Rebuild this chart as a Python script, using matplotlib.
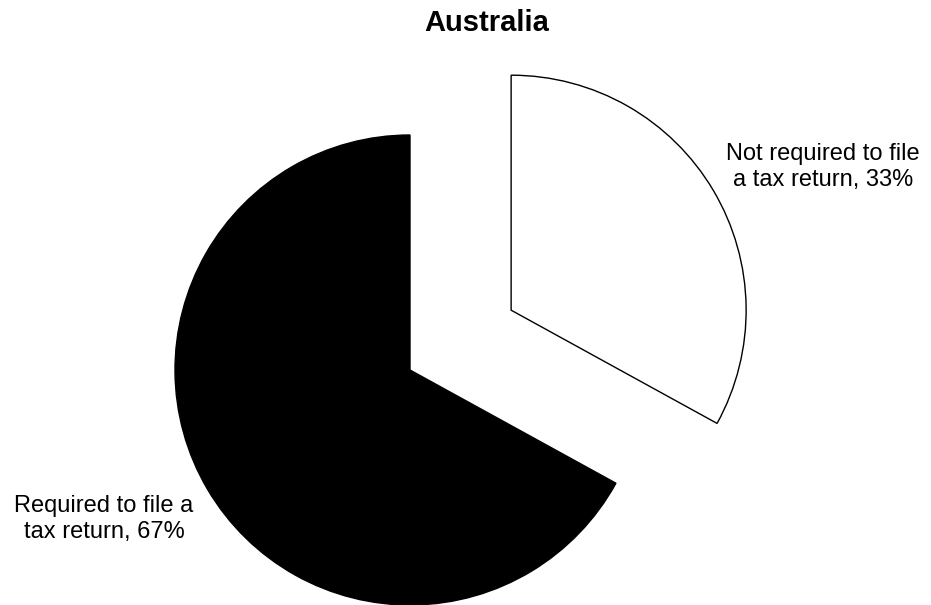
import matplotlib.pyplot as plt

# Data
labels = ["Not required to file\na tax return, 33%", "Required to file a\ntax return, 67%"]
shares = [33, 67]
colors = ["white", "black"]

plt.rcParams['font.family'] = ['Liberation Sans', 'DejaVu Sans']

fig = plt.figure(figsize=(9.31, 6.05), dpi=100)
ax = fig.add_axes([0, 0, 1, 1])

# pie in pixel-like units so it lands where the original does
r = 235
ax.pie(shares, colors=colors, startangle=90, counterclock=False,
       explode=[0.5 * r, 0], center=(410, 235), radius=r, frame=True,
       wedgeprops=dict(edgecolor='black', linewidth=1))
ax.set_xlim(0, 931)
ax.set_ylim(0, 605)
ax.set_aspect('equal')
ax.axis('off')

ax.text(823, 438, labels[0], ha='center', va='center', fontsize=17, linespacing=1.27)
ax.text(104, 86, labels[1], ha='center', va='center', fontsize=17, linespacing=1.27)
ax.text(487, 582, "Australia", ha='center', va='center', fontsize=21, fontweight='bold')

fig.savefig("out.png", dpi=100)
